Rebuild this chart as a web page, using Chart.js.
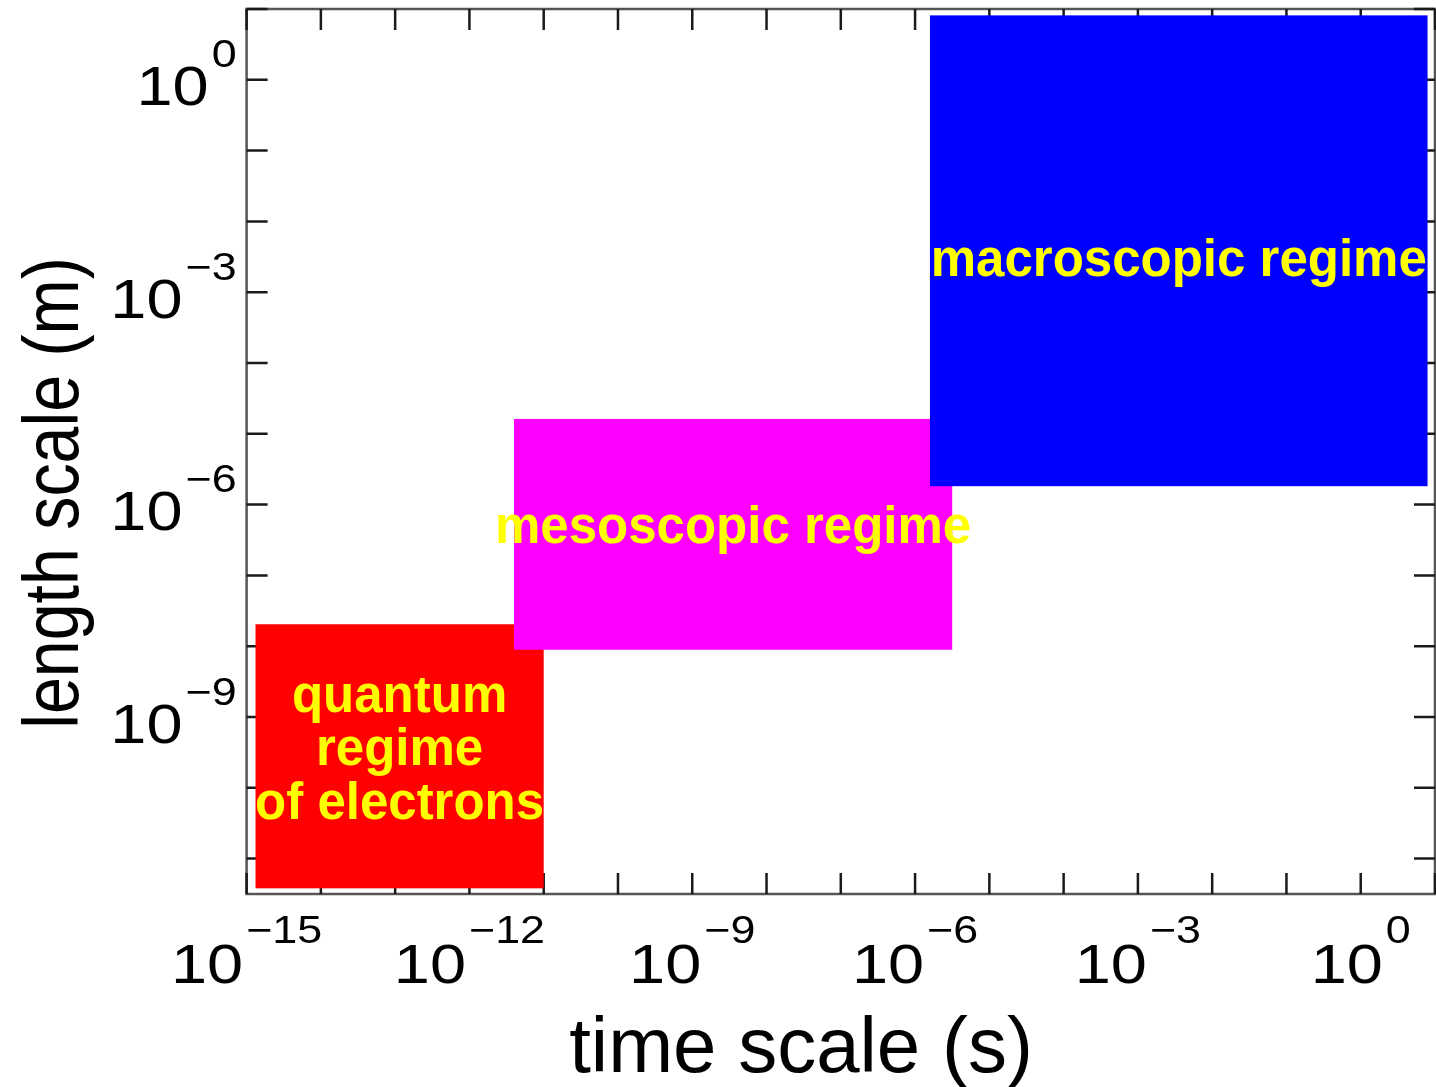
<!DOCTYPE html>
<html>
<head>
<meta charset="utf-8">
<script src="https://cdn.jsdelivr.net/npm/chart.js@4.4.0/dist/chart.umd.min.js"></script>
<style>
  html, body { margin: 0; padding: 0; background: #fff; }
</style>
</head>
<body>
<canvas id="regimes" width="1436" height="1087"></canvas>
<script>
// regimes, given as decade exponents: time (s) and length (m)
const regimes = ["quantum\nregime\nof electrons", "mesoscopic regime", "macroscopic regime"];
const timeFrom = [-14.88, -11.4, -5.8];
const timeTo = [-11.0, -5.5, 0.9];
const lengthFrom = [-11.42, -8.05, -5.74];
const lengthTo = [-7.69, -4.79, 0.91];
const regimeColors = ["#ff0000", "#ff00ff", "#0000ff"];

// labelled decades on each axis
const timeTicks = [-15, -12, -9, -6, -3, 0];
const lengthTicks = [-9, -6, -3, 0];

const FONT = "'Liberation Sans', Arial, Helvetica, sans-serif";

// "10" with a raised exponent, drawn a bit wide like the original
function drawPower(ctx, exp, baseX, baseY, supY, align) {
  const sx = 1.18;
  const sup = exp < 0 ? "\u2212" + (-exp) : String(exp);
  ctx.font = "55px " + FONT;
  const wb = ctx.measureText("10").width * sx;
  ctx.font = "38px " + FONT;
  const ws = ctx.measureText(sup).width * sx;
  const gap = 3;
  const total = wb + gap + ws;
  const left = align === "center" ? baseX - total / 2 : baseX - total;

  ctx.save();
  ctx.translate(left, 0);
  ctx.scale(sx, 1);
  ctx.font = "55px " + FONT;
  ctx.fillText("10", 0, baseY);
  ctx.font = "38px " + FONT;
  ctx.fillText(sup, (wb + gap) / sx, supY);
  ctx.restore();
}

const frame = {
  id: "frame",
  beforeDatasetsDraw(chart) {
    const { ctx, chartArea: a, scales: { x, y } } = chart;
    const len = 21;
    ctx.save();
    ctx.strokeStyle = "#555";
    ctx.lineWidth = 2.5;
    ctx.strokeRect(a.left, a.top, a.right - a.left, a.bottom - a.top);

    ctx.strokeStyle = "#1a1a1a";
    ctx.beginPath();
    for (let e = -15; e <= 1; e++) {
      const px = x.getPixelForValue(10 ** e);
      ctx.moveTo(px, a.bottom); ctx.lineTo(px, a.bottom - len);
      ctx.moveTo(px, a.top); ctx.lineTo(px, a.top + len);
    }
    for (let e = -11; e <= 1; e++) {
      const py = y.getPixelForValue(10 ** e);
      ctx.moveTo(a.left, py); ctx.lineTo(a.left + len, py);
      ctx.moveTo(a.right, py); ctx.lineTo(a.right - len, py);
    }
    ctx.stroke();
    ctx.restore();
  },
  afterDatasetsDraw(chart, args, opts) {
    const { ctx } = chart;
    ctx.save();
    // boxes, in dataset order so later regimes lie on top
    chart.data.datasets.forEach((ds, i) => {
      const pts = chart.getDatasetMeta(i).data;
      const x0 = pts[0].x, y0 = pts[0].y, x1 = pts[1].x, y1 = pts[1].y;
      ctx.fillStyle = ds.backgroundColor;
      ctx.fillRect(Math.min(x0, x1), Math.min(y0, y1), Math.abs(x1 - x0), Math.abs(y1 - y0));
    });
    // names
    ctx.fillStyle = "#ffff00";
    ctx.font = "bold 51px " + FONT;
    ctx.textAlign = "center";
    ctx.textBaseline = "alphabetic";
    chart.data.datasets.forEach((ds, i) => {
      const pts = chart.getDatasetMeta(i).data;
      const cx = (pts[0].x + pts[1].x) / 2;
      const cy = (pts[0].y + pts[1].y) / 2 + 9 + (opts.shift[i] || 0);
      const lines = ds.label.split("\n");
      const lh = 53.5;
      lines.forEach((ln, k) => {
        ctx.fillText(ln, cx, cy + (k - (lines.length - 1) / 2) * lh);
      });
    });
    ctx.restore();
  },
  afterDraw(chart) {
    const { ctx, chartArea: a, scales: { x, y } } = chart;
    ctx.save();
    ctx.fillStyle = "#000";
    ctx.textAlign = "left";
    ctx.textBaseline = "alphabetic";
    timeTicks.forEach(e => {
      drawPower(ctx, e, x.getPixelForValue(10 ** e), a.bottom + 89, a.bottom + 49, "center");
    });
    lengthTicks.forEach(e => {
      const py = y.getPixelForValue(10 ** e);
      drawPower(ctx, e, a.left - 10, py + 25.5, py - 12.5, "right");
    });

    // axis titles
    ctx.textAlign = "center";
    ctx.font = "78px " + FONT;
    ctx.fillText("time scale (s)", 801, 1072);

    ctx.translate(78, 493);
    ctx.rotate(-Math.PI / 2);
    ctx.scale(0.85, 1);
    ctx.fillText("length scale (m)", 0, 0);
    ctx.restore();
  }
};

const datasets = regimes.map((name, i) => ({
  label: name,
  data: [
    { x: 10 ** timeFrom[i], y: 10 ** lengthFrom[i] },
    { x: 10 ** timeTo[i], y: 10 ** lengthTo[i] },
  ],
  backgroundColor: regimeColors[i],
  borderColor: regimeColors[i],
  pointRadius: 0,
  pointHoverRadius: 0,
  showLine: false,
}));

new Chart(document.getElementById("regimes"), {
  type: "scatter",
  data: { datasets },
  options: {
    responsive: false,
    animation: false,
    layout: { padding: { left: 246.6, right: 1, top: 9, bottom: 193 } },
    plugins: {
      legend: { display: false },
      tooltip: { enabled: false },
      frame: { shift: [0, 0, 16] },
    },
    scales: {
      x: { type: "logarithmic", min: 1e-15, max: 10, display: false },
      y: { type: "logarithmic", min: 10 ** -11.5, max: 10, display: false },
    },
  },
  plugins: [frame],
});
</script>
</body>
</html>
